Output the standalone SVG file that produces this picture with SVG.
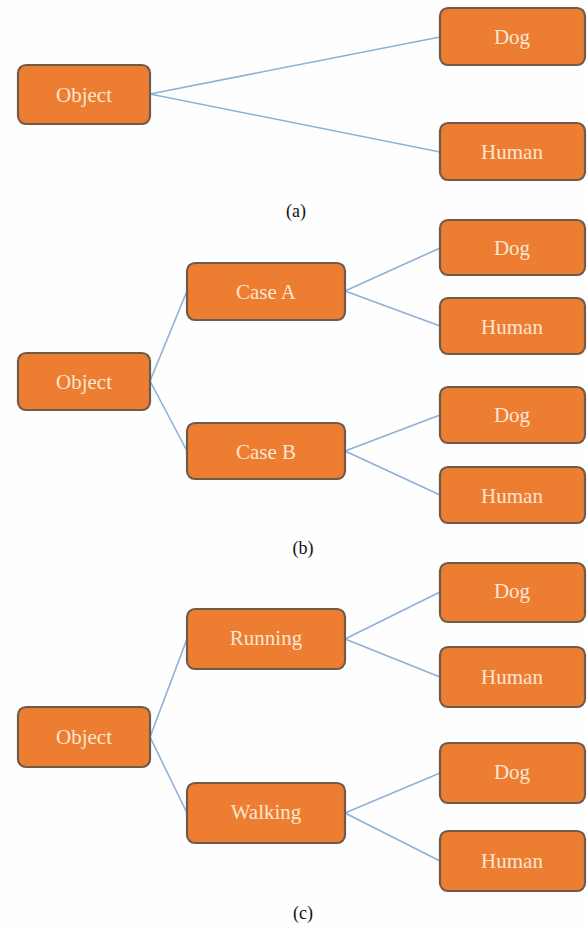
<svg xmlns="http://www.w3.org/2000/svg" width="587" height="928" viewBox="0 0 587 928">
<style>
.box{fill:#ED7D31;stroke:#6f5b4c;stroke-width:2.2}
.lbl{font-family:"Liberation Serif","Times New Roman",serif;font-size:21px;fill:#fbe6d2;text-anchor:middle}
.cap{font-family:"Liberation Serif","Times New Roman",serif;font-size:18px;fill:#111;text-anchor:middle}
.con line{stroke:#8fb0d6;stroke-width:1.6}
</style>
<rect width="587" height="928" fill="#fefefe"/>
<g class="con" id="connectors">
<line x1="150" y1="94" x2="440" y2="37"/>
<line x1="150" y1="94" x2="440" y2="152"/>
<line x1="150" y1="381" x2="187" y2="291"/>
<line x1="150" y1="381" x2="187" y2="451"/>
<line x1="345" y1="291" x2="440" y2="248"/>
<line x1="345" y1="291" x2="440" y2="326"/>
<line x1="345" y1="451" x2="440" y2="415"/>
<line x1="345" y1="451" x2="440" y2="495"/>
<line x1="150" y1="737" x2="187" y2="639"/>
<line x1="150" y1="737" x2="187" y2="813"/>
<line x1="345" y1="639" x2="440" y2="592"/>
<line x1="345" y1="639" x2="440" y2="677"/>
<line x1="345" y1="813" x2="440" y2="773"/>
<line x1="345" y1="813" x2="440" y2="861"/>
</g>
<g id="a-object"><rect class="box" x="18" y="65" width="132" height="59" rx="8"/><text class="lbl" x="84" y="102">Object</text></g>
<g id="a-dog"><rect class="box" x="440" y="8" width="145" height="57" rx="8"/><text class="lbl" x="512" y="44">Dog</text></g>
<g id="a-human"><rect class="box" x="440" y="123" width="145" height="57" rx="8"/><text class="lbl" x="512" y="159">Human</text></g>
<text class="cap" x="296" y="217">(a)</text>
<g id="b-object"><rect class="box" x="18" y="353" width="132" height="57" rx="8"/><text class="lbl" x="84" y="389">Object</text></g>
<g id="b-caseA"><rect class="box" x="187" y="263" width="158" height="57" rx="8"/><text class="lbl" x="266" y="299">Case A</text></g>
<g id="b-caseB"><rect class="box" x="187" y="423" width="158" height="56" rx="8"/><text class="lbl" x="266" y="459">Case B</text></g>
<g id="b-dog1"><rect class="box" x="440" y="220" width="145" height="55" rx="8"/><text class="lbl" x="512" y="255">Dog</text></g>
<g id="b-human1"><rect class="box" x="440" y="298" width="145" height="56" rx="8"/><text class="lbl" x="512" y="334">Human</text></g>
<g id="b-dog2"><rect class="box" x="440" y="387" width="145" height="56" rx="8"/><text class="lbl" x="512" y="422">Dog</text></g>
<g id="b-human2"><rect class="box" x="440" y="467" width="145" height="56" rx="8"/><text class="lbl" x="512" y="503">Human</text></g>
<text class="cap" x="303" y="554">(b)</text>
<g id="c-object"><rect class="box" x="18" y="707" width="132" height="60" rx="8"/><text class="lbl" x="84" y="744">Object</text></g>
<g id="c-running"><rect class="box" x="187" y="609" width="158" height="60" rx="8"/><text class="lbl" x="266" y="645">Running</text></g>
<g id="c-walking"><rect class="box" x="187" y="783" width="158" height="60" rx="8"/><text class="lbl" x="266" y="819">Walking</text></g>
<g id="c-dog1"><rect class="box" x="440" y="563" width="145" height="59" rx="8"/><text class="lbl" x="512" y="598">Dog</text></g>
<g id="c-human1"><rect class="box" x="440" y="647" width="145" height="60" rx="8"/><text class="lbl" x="512" y="684">Human</text></g>
<g id="c-dog2"><rect class="box" x="440" y="743" width="145" height="60" rx="8"/><text class="lbl" x="512" y="779">Dog</text></g>
<g id="c-human2"><rect class="box" x="440" y="831" width="145" height="60" rx="8"/><text class="lbl" x="512" y="868">Human</text></g>
<text class="cap" x="303" y="919">(c)</text>
</svg>
